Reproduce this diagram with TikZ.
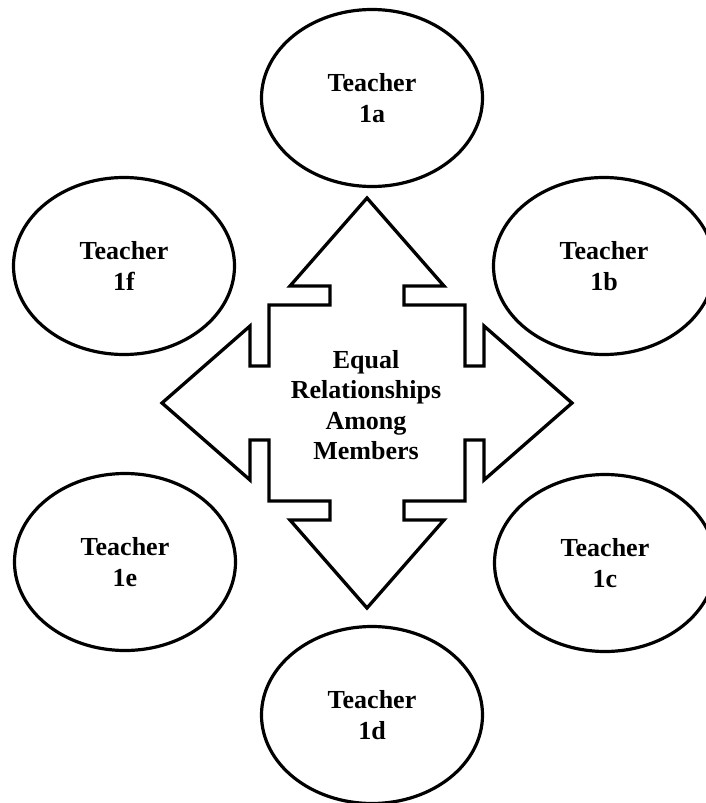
\documentclass[tikz,border=0pt]{standalone}
\usepackage{fontspec}
\setmainfont{Liberation Serif}
\usetikzlibrary{shapes.geometric}

\begin{document}
\begin{tikzpicture}[x=1pt, y=-1pt,
        teacher/.style={draw, ellipse, line width=3.2pt, minimum width=221pt,
            minimum height=177pt, inner sep=0pt, align=center,
            font=\bfseries\fontsize{26}{30.5}\selectfont},
        hub/.style={align=center, inner sep=0pt,
            font=\bfseries\fontsize{26}{30.5}\selectfont}]
            \clip (0, 0) rectangle (706, 803);
            \fill[white] (0, 0) rectangle (706, 803);

            \draw[line width=3.3pt] (367, 198) -- (444, 286) -- (404, 286) -- (404, 305)
                -- (465, 305) -- (465, 366) -- (484, 366) -- (484, 326) -- (572, 403)
                -- (484, 480) -- (484, 440) -- (465, 440) -- (465, 501) -- (404, 501)
                -- (404, 520) -- (444, 520) -- (367, 608) -- (290, 520) -- (330, 520)
                -- (330, 501) -- (269, 501) -- (269, 440) -- (250, 440) -- (250, 480)
                -- (162, 403) -- (250, 326) -- (250, 366) -- (269, 366) -- (269, 305)
                -- (330, 305) -- (330, 286) -- (290, 286) -- cycle;

            \node[hub] (equal) at (366, 405) {Equal\\Relationships\\Among\\Members};

            \node[teacher] (t1a) at (372, 98) {Teacher\\1a};
            \node[teacher] (t1b) at (604, 266) {Teacher\\1b};
            \node[teacher] (t1c) at (605, 563) {Teacher\\1c};
            \node[teacher] (t1d) at (372, 715) {Teacher\\1d};
            \node[teacher] (t1e) at (125, 562) {Teacher\\1e};
            \node[teacher] (t1f) at (124, 266) {Teacher\\1f};
        \end{tikzpicture}
\end{document}
